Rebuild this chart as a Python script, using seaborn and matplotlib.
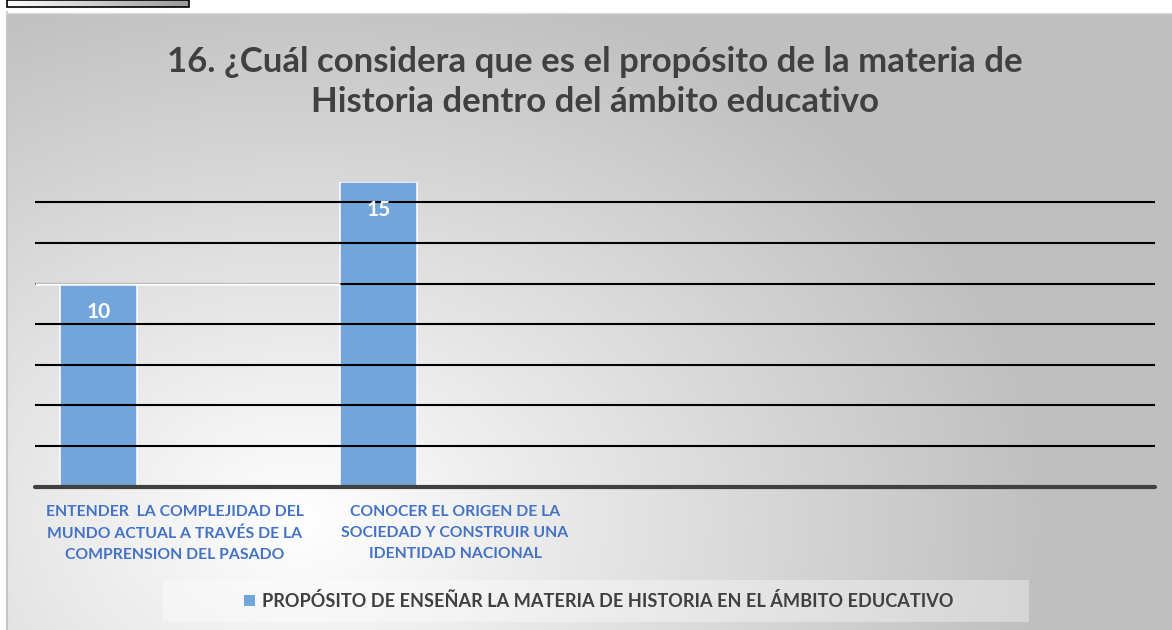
import numpy as np
import pandas as pd
import matplotlib
matplotlib.use("Agg")
import matplotlib.pyplot as plt
import seaborn as sns
from matplotlib.patches import Rectangle, Patch

# ---------------- data ----------------
title_lines = ["16. ¿Cuál considera que es el propósito de la materia de",
               "Historia dentro del ámbito educativo"]
categories = ["ENTENDER  LA COMPLEJIDAD DEL\nMUNDO ACTUAL A TRAVÉS DE LA\nCOMPRENSION DEL PASADO",
              "CONOCER EL ORIGEN DE LA\nSOCIEDAD Y CONSTRUIR UNA\nIDENTIDAD NACIONAL"]
values = [10, 15]
series_name = "PROPÓSITO DE ENSEÑAR LA MATERIA DE HISTORIA EN EL ÁMBITO EDUCATIVO"
empty_series = ["Serie 2", "Serie 3"]
n_slots = 4
y_ticks = [0, 2, 4, 6, 8, 10, 12, 14]
y_max = 15

BAR = '#72A6DA'
DARK = '#404040'
BLUE = '#4472C4'

sns.set_theme(style="white")
plt.rcParams['font.family'] = ['Lato', 'DejaVu Sans']

W, H = 1172, 630
fig = plt.figure(figsize=(W / 100, H / 100), dpi=100)

# ---------------- background ----------------
bg = fig.add_axes([0, 0, 1, 1], zorder=0)
yy, xx = np.mgrid[0:H, 0:W]
d = np.sqrt(((xx - 300) / 750.0) ** 2 + ((yy - 520) / 560.0) ** 2)
t = np.clip(d, 0, 1)
val = (255 - 64 * t) / 255.0
img = np.dstack([val, val, val])
bg.imshow(img, extent=[0, W, H, 0], aspect='auto', interpolation='bilinear')
bg.add_patch(Rectangle((0, 0), W, 12, color='white', zorder=2))
bg.add_patch(Rectangle((0, 0), 6, H, color='white', zorder=2))
bg.plot([6.5, 6.5], [12, H], color='#c4c4c4', lw=1.5, zorder=3)
bg.plot([6, W], [12.5, 12.5], color='#dcdcdc', lw=1, zorder=3)
grad = np.linspace(1, 0.6, 200)
box = np.dstack([np.tile(grad, (10, 1))] * 3)
bg.imshow(box, extent=[7, 189, 7, 0], aspect='auto', zorder=4)
bg.add_patch(Rectangle((7, 0), 182, 7, fill=False, edgecolor='black', lw=1.2, zorder=5))
bg.add_patch(Rectangle((163, 580), 866, 42, facecolor='white', alpha=0.35,
                       edgecolor='none', zorder=3))
bg.set_xlim(0, W)
bg.set_ylim(H, 0)
bg.axis('off')

# ---------------- main chart ----------------
ax = fig.add_axes([35 / W, 1 - 486.5 / H, 1120 / W, (486.5 - 182) / H], zorder=2)
ax.patch.set_alpha(0)

df = pd.DataFrame({"categoria": categories, "valor": values, "serie": series_name})
hue_order = [series_name] + empty_series
palette = {s: BAR for s in hue_order}
sns.barplot(data=df, x="categoria", y="valor", hue="serie", hue_order=hue_order,
            palette=palette, width=0.82, dodge=True, edgecolor='white',
            linewidth=1.1, legend=False, ax=ax, saturation=1)

ax.set_xlim(-0.5, n_slots - 0.5)
ax.set_ylim(0, y_max)
ax.set_yticks(y_ticks)
ax.set_axisbelow(False)
ax.yaxis.grid(True, color='black', lw=1.5)
ax.xaxis.grid(False)
for s in ax.spines.values():
    s.set_visible(False)
ax.tick_params(axis='y', left=False, labelleft=False)
ax.tick_params(axis='x', bottom=False, pad=7.5, labelsize=11.3, labelcolor=BLUE)
for lbl in ax.get_xticklabels():
    lbl.set_fontweight('bold')
    lbl.set_linespacing(1.62)
ax.set_xlabel('')
ax.set_ylabel('')

ax.axhline(0, color=DARK, lw=3, zorder=4, clip_on=False)

bars = [p for p in ax.patches if p.get_height() > 0]
bars.sort(key=lambda p: p.get_x())
# white segment of the gridline at 10 up to the second bar
ax.hlines(10, -0.5, bars[1].get_x(), color='white', lw=1.8, zorder=3)

for p in bars:
    ax.annotate(f"{p.get_height():.0f}", (p.get_x() + p.get_width() / 2, p.get_height()),
                xytext=(0, -20.5), textcoords='offset points', ha='center', va='center',
                color='white', fontweight='bold', fontsize=15, zorder=6)

ax.legend(handles=[Patch(facecolor=BAR, edgecolor='none')], labels=[series_name],
          loc='center', bbox_to_anchor=(598.5 / W, 1 - 601 / H),
          bbox_transform=fig.transFigure, frameon=False, handlelength=0.6,
          handleheight=0.6, handletextpad=0.4,
          prop=dict(weight='bold', size=13.1), labelcolor=DARK)

fig.text(595 / W, 1 - 62 / H, title_lines[0], ha='center', va='center',
         fontsize=25, fontweight='bold', color=DARK)
fig.text(595 / W, 1 - 102 / H, title_lines[1], ha='center', va='center',
         fontsize=25, fontweight='bold', color=DARK)

fig.savefig('out.png', dpi=100)
